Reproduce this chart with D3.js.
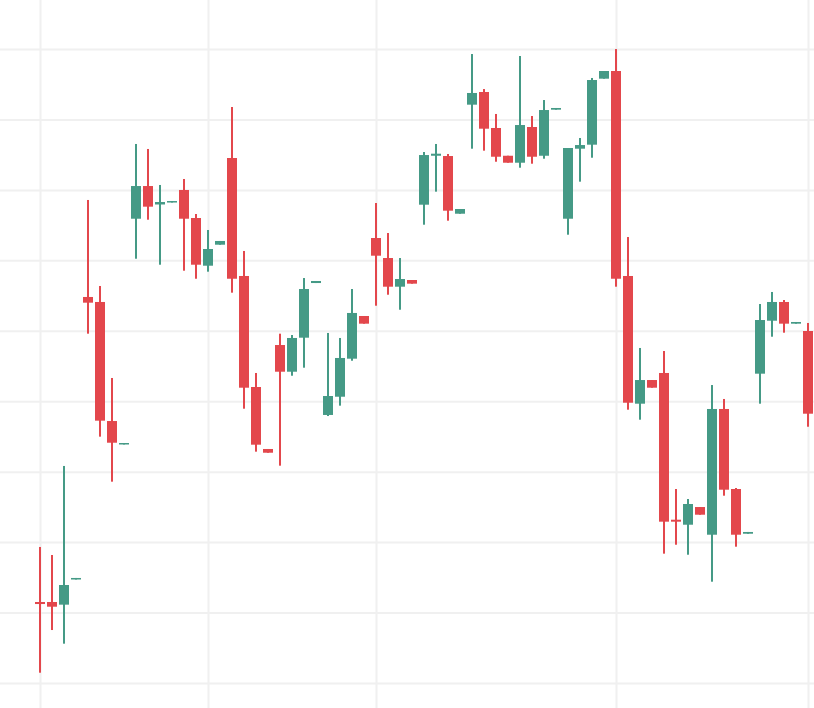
<!DOCTYPE html>
<html>
<head>
<meta charset="utf-8">
<script src="https://cdn.jsdelivr.net/npm/d3@7"></script>
<style>
    body { margin: 0; background: #fff; overflow: hidden; }
    svg { display: block; }
</style>
</head>
<body>
<svg width="814" height="708"></svg>
<script>
// daily candles, Jan 1 - Mar 6
var dates = [
    "2019-01-01", "2019-01-02", "2019-01-03", "2019-01-04", "2019-01-05", "2019-01-06", "2019-01-07",
    "2019-01-08", "2019-01-09", "2019-01-10", "2019-01-11", "2019-01-12", "2019-01-13", "2019-01-14",
    "2019-01-15", "2019-01-16", "2019-01-17", "2019-01-18", "2019-01-19", "2019-01-20", "2019-01-21",
    "2019-01-22", "2019-01-23", "2019-01-24", "2019-01-25", "2019-01-26", "2019-01-27", "2019-01-28",
    "2019-01-29", "2019-01-30", "2019-01-31", "2019-02-01", "2019-02-02", "2019-02-03", "2019-02-04",
    "2019-02-05", "2019-02-06", "2019-02-07", "2019-02-08", "2019-02-09", "2019-02-10", "2019-02-11",
    "2019-02-12", "2019-02-13", "2019-02-14", "2019-02-15", "2019-02-16", "2019-02-17", "2019-02-18",
    "2019-02-19", "2019-02-20", "2019-02-21", "2019-02-22", "2019-02-23", "2019-02-24", "2019-02-25",
    "2019-02-26", "2019-02-27", "2019-02-28", "2019-03-01", "2019-03-02", "2019-03-03", "2019-03-04",
    "2019-03-05", "2019-03-06"
]

var open = [
    111.50, 111.50, 111.12, 114.69, 154.80, 154.09, 137.19, 133.86, 165.91, 170.55,
    167.93, 168.21, 169.99, 166.01, 159.24, 162.22, 174.53, 157.78, 142.02, 133.22,
    147.98, 144.19, 149.02, 156.78, 138.05, 140.64, 146.04, 152.10, 163.17, 160.33,
    156.26, 157.21, 167.90, 174.85, 174.81, 166.62, 182.10, 183.90, 178.79, 174.85,
    173.86, 178.93, 174.85, 181.39, 165.91, 175.85, 176.42, 185.79, 186.88, 157.78,
    139.65, 143.01, 144.01, 123.18, 122.47, 124.98, 121.05, 138.90, 127.54, 121.19,
    143.91, 151.43, 154.09, 151.01, 149.97
]
var high = [
    119.31, 118.17, 130.81, 114.91, 168.57, 156.36, 143.30, 134.07, 176.52, 175.81,
    170.70, 168.42, 171.55, 166.58, 164.31, 162.75, 181.77, 161.33, 144.01, 133.22,
    149.59, 149.40, 157.49, 157.07, 149.69, 148.98, 155.93, 152.10, 168.14, 163.88,
    160.33, 157.21, 175.38, 176.52, 175.10, 167.29, 189.29, 184.32, 180.78, 174.85,
    189.01, 180.49, 182.76, 181.63, 175.95, 177.37, 185.89, 186.88, 190.00, 163.31,
    147.56, 143.01, 147.13, 127.54, 126.12, 124.98, 142.30, 140.32, 127.68, 121.44,
    153.80, 155.51, 154.37, 151.25, 151.11
]
var low = [
    101.46, 107.52, 105.58, 114.69, 149.59, 134.97, 128.58, 133.86, 160.23, 165.77,
    159.38, 168.21, 158.53, 157.39, 158.39, 162.22, 155.41, 138.94, 132.84, 132.69,
    130.85, 143.62, 144.76, 156.78, 137.90, 139.37, 145.75, 151.01, 153.56, 155.12,
    152.99, 156.69, 165.06, 169.75, 165.63, 166.62, 175.85, 175.57, 174.00, 173.86,
    173.15, 173.72, 174.43, 181.39, 163.64, 171.17, 174.57, 185.79, 156.26, 138.80,
    137.38, 141.92, 118.36, 119.63, 118.21, 123.89, 114.38, 126.59, 119.35, 121.19,
    139.65, 149.16, 149.73, 151.01, 136.38
]
var close = [
    111.21, 110.83, 113.91, 114.91, 153.99, 137.24, 134.11, 134.07, 170.55, 167.62,
    168.28, 168.42, 165.91, 159.38, 161.61, 162.75, 157.39, 141.92, 133.83, 132.69,
    144.19, 148.98, 155.93, 157.07, 140.74, 146.14, 152.53, 151.01, 160.66, 156.26,
    157.35, 156.69, 174.95, 175.14, 167.05, 167.29, 183.76, 178.69, 174.71, 173.86,
    179.21, 174.71, 181.34, 181.63, 175.95, 176.37, 185.60, 186.88, 157.39, 139.79,
    143.01, 141.92, 122.90, 122.90, 125.41, 123.89, 138.90, 127.44, 121.05, 121.44,
    151.53, 154.09, 151.01, 151.25, 138.23
]

var priceTicks = [100, 110, 120, 130, 140, 150, 160, 170, 180, 190]
var gridDates = ["2019-01-01", "2019-01-15", "2019-01-29", "2019-02-18", "2019-03-06"]

var upColor = "#459a86", downColor = "#e3474c"

var svg = d3.select("svg")
var pxX = +svg.attr("width"), pxY = +svg.attr("height")

var data = dates.map((d, i) => ({ date: d, o: open[i], h: high[i], l: low[i], c: close[i] }))

var scX = d3.scalePoint().domain(dates).range([40, 808])
var scY = d3.scaleLinear().domain([96.45, 196.96]).range([pxY, 0])

// grid
svg.append("g")
    .call(d3.axisLeft(scY).tickValues(priceTicks).tickSize(-pxX).tickFormat(""))
    .call(g => g.select(".domain").remove())
    .call(g => g.selectAll("line").attr("stroke", "#f0f0f0").attr("stroke-width", 2))

svg.append("g")
    .attr("transform", `translate(0, ${pxY})`)
    .call(d3.axisBottom(scX).tickValues(gridDates).tickSize(-pxY).tickFormat(""))
    .call(g => g.select(".domain").remove())
    .call(g => g.selectAll("line").attr("stroke", "#f0f0f0").attr("stroke-width", 2))

var candles = svg.append("g")
    .selectAll("g")
    .data(data).enter()
    .append("g")
    .attr("fill", d => d.c >= d.o ? upColor : downColor)

// wicks
candles.append("rect")
    .attr("x", d => scX(d.date) - 1)
    .attr("width", 2)
    .attr("y", d => scY(d.h))
    .attr("height", d => scY(d.l) - scY(d.h))

// bodies
candles.append("rect")
    .attr("x", d => scX(d.date) - 5)
    .attr("width", 10)
    .attr("y", d => scY(Math.max(d.o, d.c)))
    .attr("height", d => Math.max(1.5, Math.abs(scY(d.o) - scY(d.c))))
</script>
</body>
</html>
